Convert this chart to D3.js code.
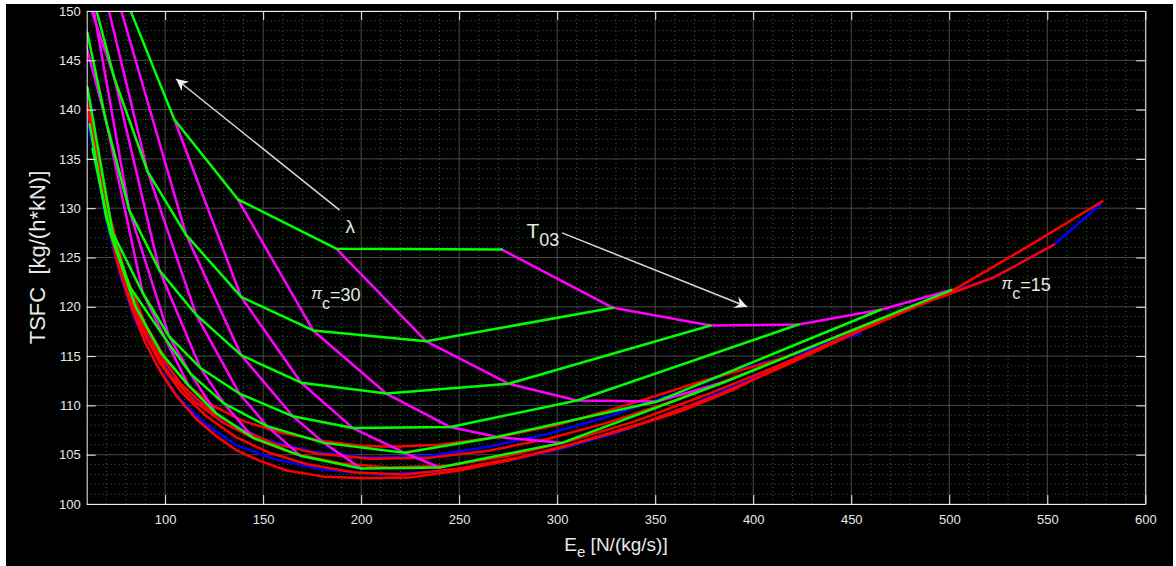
<!DOCTYPE html>
<html>
<head>
<meta charset="utf-8">
<script src="https://cdn.jsdelivr.net/npm/d3@7"></script>
<style>
  html, body { margin: 0; padding: 0; background: #ffffff; }
  svg { display: block; }
  text { font-family: "Liberation Sans", Arial, sans-serif; fill: #e8e8e8; }
</style>
</head>
<body>
<div id="chart"></div>
<script>
// axis ticks
const xTicks = [100, 150, 200, 250, 300, 350, 400, 450, 500, 550, 600];
const yTicks = [100, 105, 110, 115, 120, 125, 130, 135, 140, 145, 150];

// carpet for pi_c = 30: rows = green lines, columns = magenta lines (M0..M7, MB)
const greenRows = [
  [null, null, null, null, [65.6, 158.3], [104.7, 139.0], [137.1, 130.9], [187.3, 125.9], [271.8, 125.8]],
  [null, [61, 153], [74.1, 143.2], [91.1, 133.7], [110.7, 127.3], [138.8, 121.0], [175.5, 117.6], [233.2, 116.5], [328.5, 119.9]],
  [[69.9, 138.8], [81.7, 129.8], [97.1, 123.7], [115.8, 119.2], [138.8, 115.1], [169.4, 112.3], [212.8, 111.2], [275.2, 112.2], [378.2, 118.1]],
  [[88.6, 121.4], [102, 117.0], [118, 113.8], [137.9, 111.2], [165.2, 108.9], [195.8, 107.7], [245.5, 107.8], [310.1, 110.5], [423.1, 118.2]],
  [[100, 116.8], [113, 113.2], [130, 110.2], [152, 107.9], [181, 106.2], [222, 105.2], [269.3, 106.8], [351.0, 110.4], [465.0, 119.7]],
  [[112, 112.0], [126, 109.2], [145, 106.7], [169, 104.9], [200, 103.6], [240, 103.7], [302.5, 106.2], [385.8, 112.4], [501, 121.7]]
];
// green lines continuing left of the first magenta line
const greenLead = [
  [],
  [],
  [[60.3, 147.8]],
  [[60.3, 142.3], [73.3, 127.5]],
  [[61.5, 138.5], [70, 129.0], [82, 122.0]],
  [[63, 136.0], [72, 127.5], [85, 120.0], [98, 115.3]]
];
// magenta lines that come in over the top edge
const magentaTop = [[58, 147.8], null, [57, 153.3], [58, 161], null, null, null, null, null];

const redLines = [
  [[60.3, 140.6], [65, 134.3], [70, 129.3], [76, 124.2], [83, 119.8], [90, 116.3], [98, 113.3], [106, 110.9], [116, 108.6], [126, 106.9], [136, 105.5], [148, 104.4], [162, 103.4], [180, 102.8], [201, 102.6], [225, 102.7], [250, 103.4], [275, 104.4], [300, 105.6], [330, 107.3], [363, 109.4], [390, 111.6], [414, 114.0], [440, 116.4], [470, 119.1], [503, 121.8], [540, 126.1], [578.1, 130.7]],
  [[61, 141.5], [66, 135], [72, 129], [80, 123.2], [90, 118.2], [100, 114.8], [112, 112.0], [125, 109.9], [140, 108.4], [160, 107.2], [180, 106.4], [200, 105.9], [215, 105.8], [240, 106.0], [270, 106.8], [300, 108.0], [335, 110.0], [373, 112.4], [417, 114.9]],
  [[62, 139.5], [68, 132.5], [75, 126], [84, 120.3], [95, 115.8], [108, 112.2], [122, 109.6], [138, 107.6], [156, 106.1], [178, 105.1], [205, 104.6], [235, 104.7], [265, 105.4], [295, 106.6], [325, 108.2], [360, 110.5], [395, 113.2], [430, 116.0], [465, 118.8], [500, 121.3], [523, 123.0], [553.4, 126.3]],
  [[61, 140], [66, 133.5], [73, 126.8], [81, 121.5], [91, 116.7], [102, 113.2], [115, 110.4], [130, 108.2], [147, 106.5], [166, 105.1], [190, 104.1], [215, 103.7], [245, 103.9], [275, 104.9], [305, 106.3], [340, 108.4], [375, 111.0], [410, 113.8], [450, 117.2], [485, 120.2], [503, 121.8]],
  [[60.5, 140.3], [65, 134.5], [71, 128.5], [78, 123.2], [87, 118.2], [97, 114.4], [108, 111.4], [121, 108.9], [136, 106.8], [153, 105.2], [173, 104.0], [197, 103.2], [222, 103.0], [250, 103.6], [280, 104.7], [310, 106.2], [345, 108.3], [380, 110.9], [415, 113.9], [455, 117.6], [490, 120.6], [503, 121.8]]
];

const blueLines = [
  [[60, 139.3], [64, 135], [70, 128.8], [77, 123.2], [85, 118.5], [95, 114.3], [106, 111.0], [120, 108.2], [136, 106.0], [155, 104.6], [180, 103.5], [210, 103.0], [240, 103.3], [270, 104.2], [300, 105.5], [330, 107.2], [363, 109.6], [400, 112.8], [440, 116.5], [480, 120.0], [523, 123.0], [553.4, 126.3], [577.3, 130.4]],
  [[62, 141], [68, 131.5], [76, 124.3], [86, 118.7], [98, 114.5], [112, 111.2], [128, 108.7], [150, 106.6], [175, 105.3], [205, 104.7], [235, 104.9], [265, 105.8], [295, 107.1], [325, 108.8], [360, 111.2], [395, 113.8], [417, 114.9], [455, 117.3]]
];

// annotations
const arrows = [
  {from: [189, 129.8], to: [105.6, 143.1]},
  {from: [302.5, 127.5], to: [396.9, 120.0]}
];
const lambdaLabel = [194.4, 127.5];
const t03Label = [284.3, 127.0];
const piLabels = [{pos: [174.5, 120.6], text: "=30"}, {pos: [526.7, 121.6], text: "=15"}];

const W = 1176, H = 566;
const plot = {left: 86.7, right: 1145.3, top: 11, bottom: 504};

const svg = d3.select("#chart").append("svg")
  .attr("width", W)
  .attr("height", H);

svg.append("rect").attr("x", 6).attr("y", 4).attr("width", 1167).attr("height", H - 4).attr("fill", "#000");

const x = d3.scaleLinear().domain([60, 600]).range([plot.left, plot.right]);
const y = d3.scaleLinear().domain([100, 150]).range([plot.bottom, plot.top]);

svg.append("defs").append("clipPath").attr("id", "clip")
  .append("rect")
  .attr("x", plot.left).attr("y", plot.top)
  .attr("width", plot.right - plot.left).attr("height", plot.bottom - plot.top);

// minor grid
const grid = svg.append("g");
grid.selectAll("line.mx")
  .data(d3.range(70, 600, 10).filter(v => v % 50 !== 0))
  .join("line")
  .attr("x1", d => x(d)).attr("x2", d => x(d))
  .attr("y1", plot.top).attr("y2", plot.bottom)
  .attr("stroke", "#2f6a2f").attr("stroke-width", 1).attr("stroke-dasharray", "1,3");
grid.selectAll("line.my")
  .data(d3.range(101, 150, 1).filter(v => v % 5 !== 0))
  .join("line")
  .attr("x1", plot.left).attr("x2", plot.right)
  .attr("y1", d => y(d)).attr("y2", d => y(d))
  .attr("stroke", "#2f6a2f").attr("stroke-width", 1).attr("stroke-dasharray", "1,3");
// major grid
grid.selectAll("line.gx")
  .data(xTicks)
  .join("line")
  .attr("x1", d => x(d)).attr("x2", d => x(d))
  .attr("y1", plot.top).attr("y2", plot.bottom)
  .attr("stroke", "#4a4a4a").attr("stroke-width", 1);
grid.selectAll("line.gy")
  .data(yTicks)
  .join("line")
  .attr("x1", plot.left).attr("x2", plot.right)
  .attr("y1", d => y(d)).attr("y2", d => y(d))
  .attr("stroke", "#4a4a4a").attr("stroke-width", 1);

// curves
const line = d3.line().x(d => x(d[0])).y(d => y(d[1]));
const curves = svg.append("g").attr("clip-path", "url(#clip)")
  .attr("fill", "none").attr("stroke-width", 2.5)
  .attr("stroke-linejoin", "round").attr("stroke-linecap", "round");

curves.selectAll("path.blue").data(blueLines).join("path")
  .attr("d", line).attr("stroke", "#0000ff");
curves.selectAll("path.red").data(redLines).join("path")
  .attr("d", line).attr("stroke", "#ff0000");

const magentaCols = greenRows[0].map((_, j) => {
  const pts = greenRows.map(r => r[j]).filter(p => p);
  return magentaTop[j] ? [magentaTop[j]].concat(pts) : pts;
});
curves.selectAll("path.magenta").data(magentaCols).join("path")
  .attr("d", line).attr("stroke", "#ff00ff");

const greenPaths = greenRows.map((r, i) => greenLead[i].concat(r.filter(p => p)));
curves.selectAll("path.green").data(greenPaths).join("path")
  .attr("d", line).attr("stroke", "#00ff00");

// axes
const axisColor = "#f0f0f0";
function styleAxis(g) {
  g.select(".domain").attr("stroke", axisColor);
  g.selectAll(".tick line").attr("stroke", axisColor);
  g.selectAll(".tick text").attr("fill", "#e8e8e8")
    .style("font-size", "13px").style("font-family", "Liberation Sans, Arial, sans-serif");
}
svg.append("g").attr("transform", `translate(0,${plot.bottom})`)
  .call(d3.axisBottom(x).tickValues(xTicks).tickSize(-9).tickSizeOuter(0).tickPadding(11))
  .call(styleAxis);
svg.append("g").attr("transform", `translate(0,${plot.top})`)
  .call(d3.axisTop(x).tickValues(xTicks).tickSize(-9).tickSizeOuter(0).tickFormat(""))
  .call(styleAxis);
svg.append("g").attr("transform", `translate(${plot.left},0)`)
  .call(d3.axisLeft(y).tickValues(yTicks).tickSize(-9).tickSizeOuter(0).tickPadding(6))
  .call(styleAxis);
svg.append("g").attr("transform", `translate(${plot.right},0)`)
  .call(d3.axisRight(y).tickValues(yTicks).tickSize(-9).tickSizeOuter(0).tickFormat(""))
  .call(styleAxis);

// axis labels
const xl = svg.append("text").attr("x", (plot.left + plot.right) / 2).attr("y", 551)
  .attr("text-anchor", "middle").style("font-size", "19px");
xl.append("tspan").text("E");
xl.append("tspan").attr("dy", 6).style("font-size", "15px").text("e");
xl.append("tspan").attr("dy", -6).text(" [N/(kg/s)]");

svg.append("text")
  .attr("transform", `translate(45,${(plot.top + plot.bottom) / 2}) rotate(-90)`)
  .attr("text-anchor", "middle").style("font-size", "22px")
  .attr("xml:space", "preserve")
  .text("TSFC  [kg/(h*kN)]");

// arrows
const head = (g, a) => {
  const x0 = x(a.from[0]), y0 = y(a.from[1]), x1 = x(a.to[0]), y1 = y(a.to[1]);
  const ang = Math.atan2(y1 - y0, x1 - x0);
  g.append("line").attr("x1", x0).attr("y1", y0).attr("x2", x1).attr("y2", y1)
    .attr("stroke", "#d8d8d8").attr("stroke-width", 1.5);
  const L = 12, Wd = 6, back = 8;
  const pts = [
    [x1, y1],
    [x1 - L * Math.cos(ang) + Wd * Math.sin(ang), y1 - L * Math.sin(ang) - Wd * Math.cos(ang)],
    [x1 - back * Math.cos(ang), y1 - back * Math.sin(ang)],
    [x1 - L * Math.cos(ang) - Wd * Math.sin(ang), y1 - L * Math.sin(ang) + Wd * Math.cos(ang)]
  ];
  g.append("polygon").attr("points", pts.map(p => p.join(",")).join(" ")).attr("fill", "#f0f0f0");
};
const ann = svg.append("g");
arrows.forEach(a => head(ann, a));

ann.append("text").attr("x", x(lambdaLabel[0])).attr("y", y(lambdaLabel[1]))
  .attr("text-anchor", "middle").style("font-size", "19px").text("λ");

const t03 = ann.append("text").attr("x", x(t03Label[0])).attr("y", y(t03Label[1]))
  .style("font-size", "21px");
t03.append("tspan").text("T");
t03.append("tspan").attr("dy", 8).style("font-size", "18px").text("03");

piLabels.forEach(p => {
  const t = ann.append("text").attr("x", x(p.pos[0])).attr("y", y(p.pos[1]))
    .style("font-size", "18px");
  t.append("tspan").attr("dy", -2).style("font-size", "16px").style("font-style", "italic").text("π");
  t.append("tspan").attr("dy", 10).style("font-size", "16px").text("c");
  t.append("tspan").attr("dy", -8).text(p.text);
});
</script>
</body>
</html>
